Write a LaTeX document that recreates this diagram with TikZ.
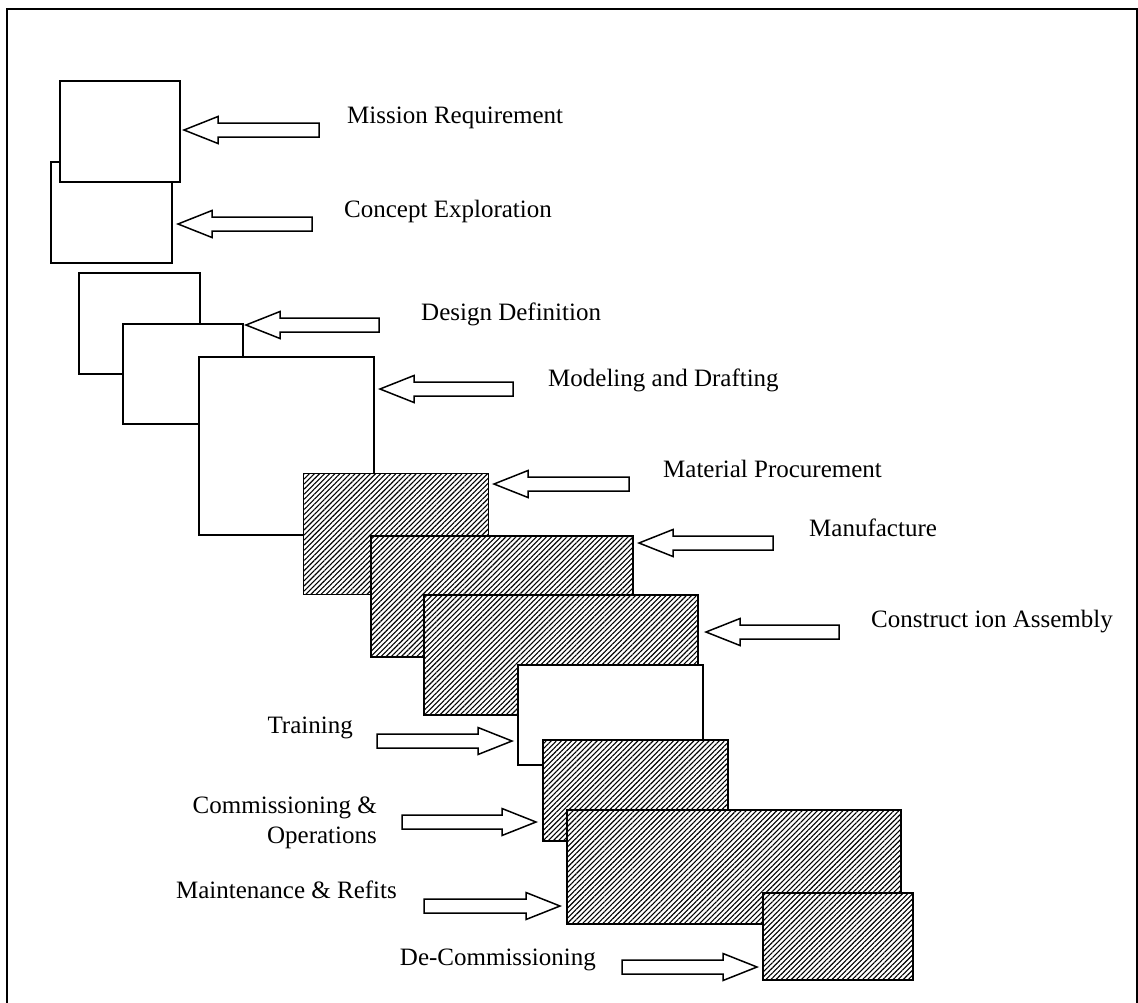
\documentclass[tikz,border=0pt]{standalone}
\usepackage{fontspec}
\setmainfont{Liberation Serif}
\usetikzlibrary{patterns.meta}
\newcommand{\myLarrow}[3]{\draw[blockarrow] (#1,#2) -- (#1+34,#2-13.5) -- (#1+34,#2-7) -- (#3,#2-7) -- (#3,#2+7) -- (#1+34,#2+7) -- (#1+34,#2+13.5) -- cycle;}
\newcommand{\myRarrow}[3]{\draw[blockarrow] (#3,#2) -- (#3-34,#2-13.5) -- (#3-34,#2-7) -- (#1,#2-7) -- (#1,#2+7) -- (#3-34,#2+7) -- (#3-34,#2+13.5) -- cycle;}
\begin{document}
\begin{tikzpicture}[x=1pt,y=-1pt,
  box/.style={draw, line width=1.6pt, fill=white, inner sep=0pt, anchor=north west},
  hatchbox/.style={draw, line width=1.6pt, inner sep=0pt, anchor=north west,
    preaction={fill=white}, pattern={Lines[angle=45,distance=3.6pt,line width=1.1pt]}},
  blockarrow/.style={draw, line width=1.5pt, fill=white, line join=miter},
  lbl/.style={font=\fontsize{25}{30}\selectfont, inner sep=0pt}]
\useasboundingbox (0,0) rectangle (1138,1002);
\clip (0,0) rectangle (1138,1002);
\draw[line width=2pt] (7,9) rectangle (1137,1030);
% boxes
\node[box, minimum width=121pt, minimum height=101pt] (b2) at (50,161) {};
\node[box, minimum width=120pt, minimum height=101pt] (b1) at (59,80) {};
\node[box, minimum width=121pt, minimum height=101pt] (b3) at (78,272) {};
\node[box, minimum width=120pt, minimum height=100pt] (b4) at (122,323) {};
\node[box, minimum width=175pt, minimum height=178pt] (b5) at (198,356) {};
\node[hatchbox, minimum width=185pt, minimum height=121pt] (b6) at (303,473) {};
\node[hatchbox, minimum width=262pt, minimum height=121pt] (b7) at (370,535) {};
\node[hatchbox, minimum width=274pt, minimum height=120pt] (b8) at (423,594) {};
\node[box, minimum width=185pt, minimum height=100pt] (b9) at (517,664) {};
\node[hatchbox, minimum width=185pt, minimum height=101pt] (b10) at (542,739) {};
\node[hatchbox, minimum width=334pt, minimum height=114pt] (b11) at (566,809) {};
\node[hatchbox, minimum width=150pt, minimum height=87pt] (b12) at (762,892) {};
% arrows pointing left
\myLarrow{184}{130}{319}
\myLarrow{178}{224}{312}
\myLarrow{246}{325}{379}
\myLarrow{380}{389}{513}
\myLarrow{494}{484}{629}
\myLarrow{639}{543}{773}
\myLarrow{706}{632}{839}
% arrows pointing right
\myRarrow{377}{741}{512}
\myRarrow{402}{822}{536}
\myRarrow{424}{906}{560}
\myRarrow{622}{967}{757}
% labels
\node[lbl, anchor=base west] (t1) at (347,123) {Mission Requirement};
\node[lbl, anchor=base west] (t2) at (344,217) {Concept Exploration};
\node[lbl, anchor=base west] (t3) at (421,320) {Design Definition};
\node[lbl, anchor=base west] (t4) at (548,386) {Modeling and Drafting};
\node[lbl, anchor=base west] (t5) at (663,477) {Material Procurement};
\node[lbl, anchor=base west] (t6) at (809,536) {Manufacture};
\node[lbl, anchor=base west] (t7) at (871,627) {Construct ion Assembly};
\node[lbl, anchor=base east] (t8) at (353,733) {Training};
\node[lbl, anchor=base east] (t9a) at (377,813) {Commissioning \&};
\node[lbl, anchor=base east] (t9b) at (377,843) {Operations};
\node[lbl, anchor=base east] (t10) at (397,898) {Maintenance \& Refits};
\node[lbl, anchor=base east] (t11) at (596,965) {De-Commissioning};
\end{tikzpicture}
\end{document}
